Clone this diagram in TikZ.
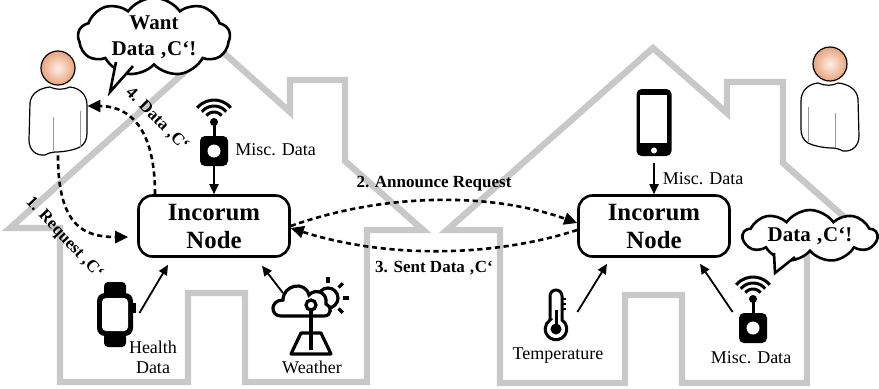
\documentclass[tikz,border=0pt]{standalone}
\usepackage{fontspec}
\setmainfont{Liberation Serif}
\usetikzlibrary{arrows.meta,positioning,shapes.symbols}
\definecolor{wallgrey}{RGB}{200,200,200}
\definecolor{skin}{HTML}{E9A37B}
\definecolor{skinlight}{HTML}{FDF0E7}
\tikzset{
  house/.style={draw=wallgrey,line width=3.2pt,line join=miter},
  incnode/.style={draw,line width=1.3pt,rounded corners=7pt,align=center,
    minimum width=75.5pt,minimum height=30.5pt,inner sep=0pt,
    font=\fontsize{12.4}{14}\selectfont\bfseries},
  thought/.style={cloud,cloud puffs=9,cloud puff arc=110,cloud ignores aspect,
    draw,line width=1.3pt,fill=white,align=center,inner sep=0pt,
    font=\fontsize{10.5}{13}\selectfont\bfseries},
  icon/.style={inner sep=0pt},
  lbl/.style={font=\fontsize{9}{10}\selectfont,align=center,inner sep=1pt},
  steplbl/.style={font=\fontsize{8.5}{10}\selectfont\bfseries,inner sep=1pt},
  feed/.style={-{Triangle[length=5pt,width=4.5pt]},line width=0.9pt},
  req/.style={-{Triangle[length=6.5pt,width=6pt]},line width=1.3pt,dash pattern=on 2.6pt off 1.8pt},
  % user silhouette, origin in the middle of the figure
  person/.pic={
    \draw[line width=0.6pt,fill=white] (-8,-16) .. controls (-18,-15) and (-27,-10) .. (-28,0)
      -- (-29,37) .. controls (-29,47) and (-22,53) .. (-13,52)
      .. controls (-9,50) and (-6,49) .. (-3,49) .. controls (6,49) and (16,47) .. (22,44)
      .. controls (27,41) and (29,36) .. (29,30) -- (29,2)
      .. controls (29,-8) and (22,-15) .. (12,-16) .. controls (5,-13) and (-2,-13) .. cycle;
    \draw[black!40,line width=0.4pt] (-5,14) -- (-5,49) (22,8) -- (22,44);
    \shadedraw[inner color=skinlight,outer color=skin,line width=0.6pt] (0,-35) circle (17);
  },
  wifidev/.pic={
    \foreach \r in {10,16,22}
      \draw[line width=1.5pt] (0,-11) ++(-140:\r) arc[start angle=-140,end angle=-40,radius=\r];
    \fill (0,-11) circle (4);
    \draw[line width=1.5pt] (0,-11) -- (0,4);
    \fill[rounded corners=2.5pt] (-14,3) rectangle (14,33);
    \fill[white] (0,18) circle (6.5);
  },
  watchdev/.pic={
    \fill[rounded corners=2pt] (-11,-33) rectangle (11,-18);
    \fill[rounded corners=2pt] (-11,18) rectangle (11,32);
    \fill[rounded corners=4pt] (-18,-22) rectangle (18,21);
    \fill[white,rounded corners=2pt] (-13,-17) rectangle (13,16);
    \fill (18,-12) rectangle (21,-2);
  },
  weatherdev/.pic={
    \draw[line width=1.6pt] (17,-18) circle (10);
    \foreach \a in {-90,-45,0,45}
      \draw[line width=1.6pt] (17,-18) ++(\a:15) -- ++(\a:6);
    \draw[line width=1.6pt,fill=white] (-30,0) .. controls (-41,0) and (-41,-16) .. (-28,-16)
      .. controls (-28,-31) and (-6,-36) .. (-2,-21) .. controls (4,-28) and (17,-24) .. (15,-12)
      .. controls (21,-10) and (21,0) .. (13,0) -- cycle;
    \draw[line width=1.6pt] (0,-6) -- (0,34);
    \draw[line width=1.6pt,fill=white] (0,-11) circle (5);
    \draw[line width=1.6pt,line join=round] (-10,17) -- (10,17) -- (20,38) -- (-20,38) -- cycle;
    \draw[line width=1.6pt] (0,17) -- (0,34);
  },
  phonedev/.pic={
    \fill[rounded corners=2.5pt] (-17.5,-33) rectangle (17.5,34);
    \fill[white] (-14,-27) rectangle (13,21);
    \fill[white] (0,28.5) circle (3);
  },
  thermodev/.pic={
    \draw[line width=1.5pt] (-6,6) -- (-6,-18) arc[start angle=180,end angle=360,radius=6]
      -- (6,6) arc[start angle=-56.3,end angle=236.3,radius=10.8] -- cycle;
    \fill (0,15) circle (5.5);
    \draw[line width=1.5pt] (0,15) -- (0,-4);
    \draw[line width=1pt] (6,-15) -- (10,-15) (6,-10) -- (10,-10) (6,-5) -- (10,-5);
  },
}

\begin{document}
\begin{tikzpicture}[x=0.5pt,y=-0.5pt]
  \useasboundingbox (0,0) rectangle (879,388);
  % the two homes
  \draw[house] (10,228) -- (215,45) -- (290,112) -- (290,80) -- (345,80) -- (345,161) -- (423,230)
    -- (367,230) -- (367,382) -- (245,382) -- (245,293) -- (188,293) -- (188,382) -- (60,382)
    -- (60,228) -- cycle;
  \draw[house] (447,230) -- (653,48) -- (727,113) -- (727,82) -- (783,82) -- (783,163) -- (859,230)
    -- (807,230) -- (807,383) -- (682,383) -- (682,295) -- (625,295) -- (625,383) -- (500,383)
    -- (500,230) -- cycle;

  % thought bubbles
  \node[thought,minimum width=76pt,minimum height=33pt] (wantL) at (154,37) {Want\\Data ‚C‘!};
  \filldraw[fill=white,line width=1.3pt,line join=miter] (116,62) -- (110,92) -- (133,66);
  \node[thought,minimum width=67pt,minimum height=26pt] (gotR) at (810,236) {Data ‚C‘!};
  \filldraw[fill=white,line width=1.3pt,line join=miter] (774,253) -- (775,273) -- (795,257);

  % users
  \node[icon,minimum width=29pt,minimum height=52pt] (userL) at (58,103) {};
  \pic at (userL) {person};
  \node[icon,minimum width=30pt,minimum height=53pt] (userR) at (830,99) {};
  \pic[xscale=-1] at (userR) {person};

  % incorum nodes
  \node[incnode] (incL) at (214,226) {Incorum\\Node};
  \node[incnode] (incR) at (654,226) {Incorum\\Node};

  % data sources
  \node[icon,minimum width=17pt,minimum height=33pt] (wifiL) at (214,133) {};
  \pic at (wifiL) {wifidev};
  \node[icon,minimum width=18pt,minimum height=32.5pt] (watch) at (115,315) {};
  \pic at (watch) {watchdev};
  \node[icon,minimum width=39pt,minimum height=40pt] (weather) at (311,316) {};
  \pic at (weather) {weatherdev};
  \node[icon,minimum width=17.5pt,minimum height=33.5pt] (phone) at (654,122) {};
  \pic at (phone) {phonedev};
  \node[icon,minimum width=11pt,minimum height=24.5pt] (thermo) at (556,314) {};
  \pic at (thermo) {thermodev};
  \node[icon,minimum width=17pt,minimum height=33pt] (wifiR) at (753,310) {};
  \pic at (wifiR) {wifidev};

  \node[lbl,anchor=west] (miscLtxt) at (233,150) {Misc. Data};
  \node[lbl] (healthtxt) at (153,357) {Health\\Data};
  \node[lbl] (weathertxt) at (312,367) {Weather};
  \node[lbl] (temptxt) at (558,356) {Temperature};
  \node[lbl] (miscRtxt) at (751,358) {Misc. Data};

  \draw[feed] (wifiL.south) -- (incL.north);
  \draw[feed] ([xshift=3pt,yshift=1pt]watch.east) -- ([xshift=-23pt,yshift=-3.5pt]incL.south);
  \draw[feed] ([xshift=-14pt,yshift=11.5pt]weather.center) -- ([xshift=24pt,yshift=-4pt]incL.south);
  \draw[feed] ([yshift=-3.5pt]phone.south) -- (incR.north) node[lbl,midway,right=3pt] (phonetxt) {Misc. Data};
  \draw[feed] ([xshift=5pt,yshift=1pt]thermo.east) -- ([xshift=-23.5pt,yshift=-3pt]incR.south);
  \draw[feed] ([xshift=-1.5pt,yshift=-1pt]wifiR.west) -- ([xshift=23pt,yshift=-3pt]incR.south);

  % request / response flow
  \draw[req] (userL.south) .. controls +(0,70) and +(-45,0) .. ([xshift=-4.5pt,yshift=-5.5pt]incL.west);
  \node[steplbl,rotate=-47] (reqtxt) at (64,238) {1. Request ‚C‘};
  \draw[req] (incL.east) .. controls +(90,-32) and +(-90,-32) .. ([yshift=1.5pt]incR.west)
    node[steplbl,midway,above=3pt] (announce) {2. Announce Request};
  \draw[req] ([yshift=-2pt]incR.west) .. controls +(-90,29) and +(90,29) .. ([yshift=-1pt]incL.east)
    node[steplbl,midway,below=3.5pt] (sent) {3. Sent Data ‚C‘};
  \draw[req] ([xshift=-29.5pt]incL.north) .. controls +(0,-75) and +(35,0) .. ([yshift=-1.5pt]userL.east);
  \node[steplbl,rotate=-45] (backtxt) at (157,119) {4. Data ‚C‘};
\end{tikzpicture}
\end{document}
